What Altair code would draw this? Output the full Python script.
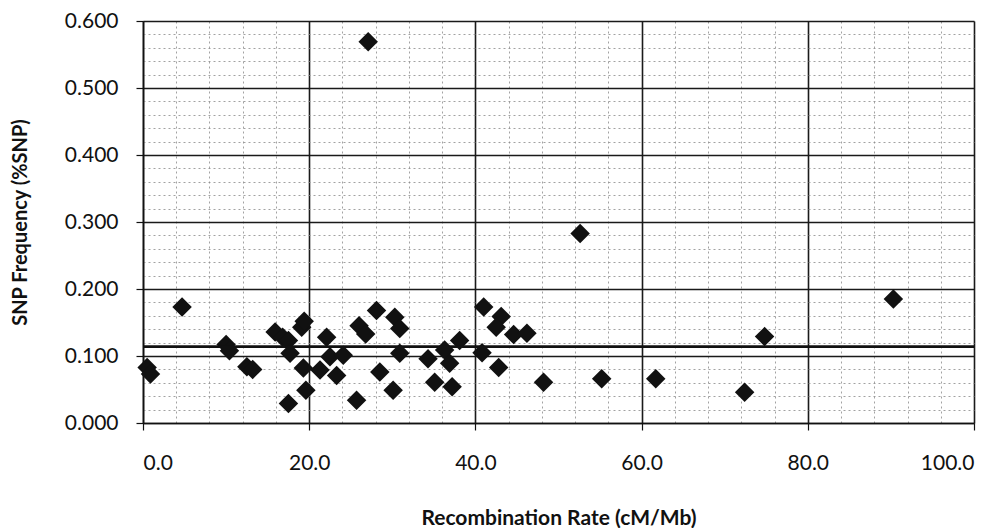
import altair as alt
import pandas as pd

# Data
recomb_rate = [0.5, 0.9, 4.7, 10.0, 10.4, 12.5, 13.2, 15.9, 16.8, 17.5, 17.7, 19.1, 19.4,
               19.3, 19.6, 17.5, 21.3, 22.1, 22.5, 23.3, 24.1, 25.7, 26.0, 26.8, 27.1,
               28.1, 28.5, 30.1, 30.3, 30.9, 30.9, 34.3, 35.1, 36.3, 36.9, 37.2, 38.1,
               41.0, 40.8, 42.8, 43.1, 42.5, 44.6, 46.2, 48.2, 52.6, 55.2, 61.7, 72.4,
               74.8, 90.3]
snp_freq = [0.083, 0.073, 0.173, 0.117, 0.108, 0.084, 0.080, 0.136, 0.128, 0.123, 0.104,
            0.143, 0.152, 0.082, 0.049, 0.029, 0.079, 0.128, 0.099, 0.071, 0.101, 0.034,
            0.145, 0.133, 0.569, 0.168, 0.076, 0.049, 0.158, 0.141, 0.104, 0.096, 0.061,
            0.109, 0.089, 0.054, 0.123, 0.173, 0.105, 0.083, 0.159, 0.143, 0.132, 0.134,
            0.061, 0.283, 0.066, 0.066, 0.046, 0.129, 0.185]
mean_snp = [0.114]

x_major = [0, 20, 40, 60, 80, 100]
x_minor = [v for v in range(0, 101, 4) if v not in x_major]
y_major = [0.0, 0.1, 0.2, 0.3, 0.4, 0.5, 0.6]
y_minor = [round(i * 0.02, 2) for i in range(31) if i % 5 != 0]

df = pd.DataFrame({"rate": recomb_rate, "snp": snp_freq})
mean_df = pd.DataFrame({"mean": mean_snp})

FONT = "Lato"
xs = alt.Scale(domain=[0, 100], nice=False, zero=True)
ys = alt.Scale(domain=[0, 0.6], nice=False, zero=True)

minor = alt.Chart(df).mark_point(opacity=0).encode(
    x=alt.X("rate:Q", scale=xs, axis=alt.Axis(
        orient="bottom", values=x_minor, grid=True, gridColor="#8a8a8a",
        gridDash=[2, 3], gridWidth=0.8, labels=False, ticks=False, domain=False, title=None)),
    y=alt.Y("snp:Q", scale=ys, axis=alt.Axis(
        orient="left", values=y_minor, grid=True, gridColor="#8a8a8a",
        gridDash=[2, 3], gridWidth=0.8, labels=False, ticks=False, domain=False, title=None)),
)

points = alt.Chart(df).mark_point(
    shape="diamond", filled=True, color="#111111", size=380, opacity=1
).encode(
    x=alt.X("rate:Q", scale=xs, axis=alt.Axis(
        orient="bottom", values=x_major, format=".1f", grid=True, gridColor="#1a1a1a",
        gridWidth=1.6, domainColor="#111", domainWidth=1.6, tickColor="#111",
        tickSize=7, tickWidth=1.2, labelPadding=22, labelFontSize=21, labelFont=FONT,
        labelColor="#111", title="Recombination Rate (cM/Mb)", titleFont=FONT,
        titleFontSize=21, titleFontWeight="bold", titleColor="#111", titlePadding=34)),
    y=alt.Y("snp:Q", scale=ys, axis=alt.Axis(
        orient="left", values=y_major, format=".3f", grid=True, gridColor="#1a1a1a",
        gridWidth=1.6, domainColor="#111", domainWidth=1.6, tickColor="#111",
        tickSize=7, tickWidth=1.2, labelPadding=18, labelFontSize=21, labelFont=FONT,
        labelColor="#111", title="SNP Frequency (%SNP)", titleFont=FONT,
        titleFontSize=20, titleFontWeight="bold", titleColor="#111", titlePadding=34)),
)

mean_line = alt.Chart(mean_df).mark_rule(color="#111111", strokeWidth=2.6).encode(
    y=alt.Y("mean:Q", scale=ys, axis=None)
)

chart = alt.layer(minor, points, mean_line).resolve_axis(
    x="independent", y="independent"
).properties(
    width=831, height=402,
    autosize=alt.AutoSizeParams(type="none"),
    padding={"left": 135, "top": 13, "right": 24, "bottom": 105},
).configure_view(stroke="#111111", strokeWidth=1.6).configure(background="white")

chart.save("out.html", embed_options={"renderer": "svg", "actions": False})
